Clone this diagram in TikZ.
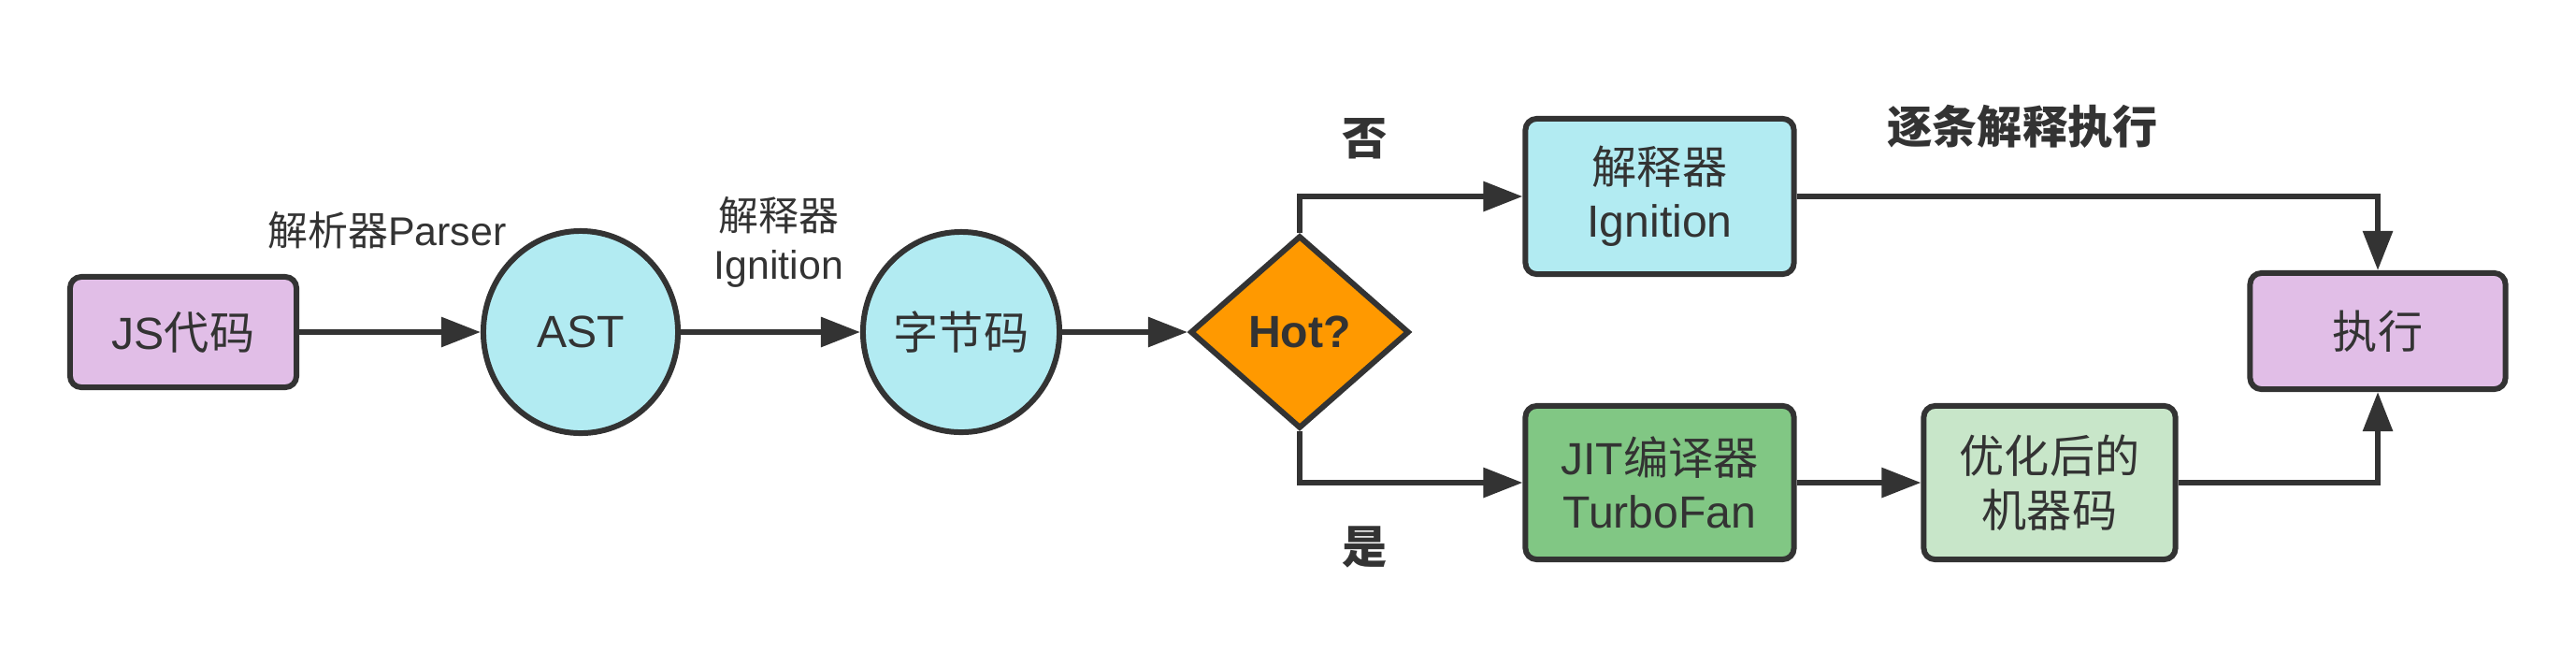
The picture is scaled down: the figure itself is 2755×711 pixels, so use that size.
\documentclass[tikz,border=0pt]{standalone}
\usepackage{fontspec}
\setmainfont{Liberation Sans}
\newfontfamily\cjk{Noto Sans CJK SC}
\usetikzlibrary{shapes.geometric,arrows.meta}
\definecolor{ink}{HTML}{333333}
\definecolor{lav}{HTML}{E1BEE7}
\definecolor{cyanf}{HTML}{B2EBF2}
\definecolor{orangef}{HTML}{FF9900}
\definecolor{greenf}{HTML}{81C784}
\definecolor{lgreen}{HTML}{C8E6C9}
\begin{document}
\begin{tikzpicture}[x=0.01cm,y=-0.01cm,
  base/.style={draw=ink, line width=1.7pt, text=ink, inner sep=0pt,
    font=\fontsize{13.7}{16.3}\selectfont, align=center},
  box/.style={base, rectangle, rounded corners=3.4pt},
  oval/.style={base, ellipse},
  lbl/.style={text=ink, inner sep=0pt, font=\fontsize{12.2}{14.8}\selectfont, align=center},
  blbl/.style={text=ink, inner sep=0pt, font=\fontsize{13.7}{16.3}\selectfont\bfseries},
  conn/.style={draw=ink, line width=1.7pt, -{Triangle[length=0.42cm,width=0.31cm]}}]
\fill[white] (0,0) rectangle (2755,711);
\useasboundingbox (0,0) rectangle (2755,711);
% nodes
\node[box, fill=lav, minimum width=2.42cm, minimum height=1.18cm] (js) at (196,355) {JS{\cjk 代码}};
\node[oval, fill=cyanf, minimum width=2.08cm, minimum height=2.16cm] (ast) at (621,355) {AST};
\node[oval, fill=cyanf, minimum width=2.10cm, minimum height=2.14cm] (byte) at (1028,355) {\cjk 字节码};
\node[base, diamond, fill=orangef, minimum width=2.34cm, minimum height=2.06cm] (hot) at (1390,355) {\bfseries Hot?};
\node[box, fill=cyanf, minimum width=2.87cm, minimum height=1.66cm] (ign) at (1775,210) {{\cjk 解释器}\\Ignition};
\node[box, fill=greenf, minimum width=2.87cm, minimum height=1.64cm] (jit) at (1775,516) {JIT{\cjk 编译器}\\TurboFan};
\node[box, fill=lgreen, minimum width=2.69cm, minimum height=1.64cm] (opt) at (2192,516) {\cjk 优化后的\\\cjk 机器码};
\node[box, fill=lav, minimum width=2.73cm, minimum height=1.24cm] (exec) at (2543,354) {\cjk 执行};
% labels
\node[lbl] (l1) at (414,246) {{\cjk 解析器}Parser};
\node[lbl] (l2) at (833,259) {{\cjk 解释器}\\Ignition};
\node[blbl] (no) at (1460,148) {\cjk\bfseries 否};
\node[blbl] (yes) at (1460,585) {\cjk\bfseries 是};
\node[blbl] (l3) at (2163,135) {\cjk\bfseries 逐条解释执行};
% connectors
\draw[conn] (js) -- (ast);
\draw[conn] (ast) -- (byte);
\draw[conn] (byte) -- (hot);
\draw[conn] (hot.north) |- (ign.west);
\draw[conn] (hot.south) |- (jit.west);
\draw[conn] (ign.east) -| (exec.north);
\draw[conn] (jit) -- (opt);
\draw[conn] (opt.east) -| (exec.south);
\end{tikzpicture}
\end{document}
